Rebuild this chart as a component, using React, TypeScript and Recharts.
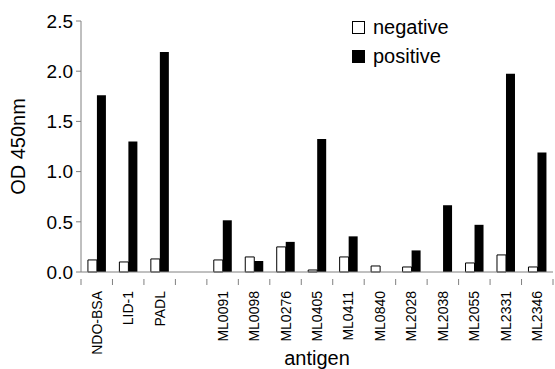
import React from 'react';
import { BarChart, Bar, XAxis, YAxis } from 'recharts';

const categories = ['NDO-BSA', 'LID-1', 'PADL', '', 'ML0091', 'ML0098', 'ML0276', 'ML0405', 'ML0411', 'ML0840', 'ML2028', 'ML2038', 'ML2055', 'ML2331', 'ML2346'];
const negativeValues = [0.12, 0.10, 0.13, null, 0.12, 0.15, 0.25, 0.02, 0.15, 0.06, 0.05, 0, 0.09, 0.17, 0.05];
const positiveValues = [1.76, 1.30, 2.19, null, 0.515, 0.11, 0.30, 1.325, 0.355, 0, 0.215, 0.665, 0.47, 1.975, 1.19];
const yTicks = [0, 0.5, 1.0, 1.5, 2.0, 2.5];
const seriesNames = ['negative', 'positive'];

const data = categories.map((name, i) => ({
  name,
  negative: negativeValues[i],
  positive: positiveValues[i],
}));

const W = 555;
const H = 369;
const MARGIN = { top: 21, right: 2, bottom: 0, left: 0 };
const Y_W = 81;
const X_H = 97;
const FONT = '"Liberation Sans", Arial, Helvetica, sans-serif';
const AXIS = '#808080';
const BAND = (W - MARGIN.left - MARGIN.right - Y_W) / categories.length;

const XTick = (props: any) => {
  const { x, y, payload, index } = props;
  const left = x - BAND / 2;
  const right = x + BAND / 2;
  const isLast = index === categories.length - 1;
  return (
    <g>
      <line x1={left} y1={y - 1} x2={left} y2={y + 5} stroke={AXIS} strokeWidth={1} />
      {isLast && <line x1={right} y1={y - 1} x2={right} y2={y + 5} stroke={AXIS} strokeWidth={1} />}
      <text
        x={x + 5}
        y={y + 11}
        transform={`rotate(-90, ${x + 5}, ${y + 11})`}
        textAnchor="end"
        fontSize={14}
        fontFamily={FONT}
        fill="#000"
      >
        {payload.value}
      </text>
    </g>
  );
};

const YLabel = (props: any) => {
  const vb = props.viewBox || { x: 0, y: 0, width: 0, height: 0 };
  const cx = 25;
  const cy = vb.y + vb.height / 2;
  return (
    <text
      x={cx}
      y={cy}
      transform={`rotate(-90, ${cx}, ${cy})`}
      textAnchor="middle"
      fontSize={20}
      fontFamily={FONT}
      fill="#000"
    >
      OD 450nm
    </text>
  );
};

const XLabel = (props: any) => {
  const vb = props.viewBox || { x: 0, y: 0, width: 0, height: 0 };
  return (
    <text
      x={vb.x + vb.width / 2}
      y={365}
      textAnchor="middle"
      fontSize={20}
      fontFamily={FONT}
      fill="#000"
    >
      antigen
    </text>
  );
};

const LegendBox = () => {
  const fills = ['#fff', '#000'];
  return (
    <div style={{ position: 'absolute', left: 352, top: 13, fontFamily: FONT, fontSize: 20, color: '#000', lineHeight: '29px' }}>
      {seriesNames.map((label, i) => (
        <div key={label} style={{ display: 'flex', alignItems: 'center', height: 29 }}>
          <svg width={13} height={13} style={{ marginRight: 8, display: 'block' }}>
            <rect x={0.5} y={0.5} width={12} height={12} fill={fills[i]} stroke="#000" strokeWidth={1} />
          </svg>
          <span>{label}</span>
        </div>
      ))}
    </div>
  );
};

export default function App() {
  return (
    <div style={{ position: 'absolute', left: 0, top: 0, width: W, height: H, background: '#fff' }}>
      <BarChart
        width={W}
        height={H}
        data={data}
        margin={MARGIN}
        barCategoryGap="22%"
        barGap={0}
      >
        <XAxis
          dataKey="name"
          height={X_H}
          interval={0}
          tickLine={false}
          axisLine={{ stroke: AXIS }}
          tick={<XTick />}
          label={<XLabel />}
        />
        <YAxis
          width={Y_W}
          domain={[0, 2.5]}
          ticks={yTicks}
          tickFormatter={(v: number) => v.toFixed(1)}
          tickSize={5}
          tickMargin={3}
          axisLine={{ stroke: AXIS }}
          tickLine={{ stroke: AXIS }}
          tick={{ fill: '#000', fontSize: 19, fontFamily: FONT }}
          label={<YLabel />}
        />
        <Bar dataKey="negative" fill="#fff" stroke="#000" strokeWidth={1} isAnimationActive={false} />
        <Bar dataKey="positive" fill="#000" isAnimationActive={false} />
      </BarChart>
      <LegendBox />
    </div>
  );
}
